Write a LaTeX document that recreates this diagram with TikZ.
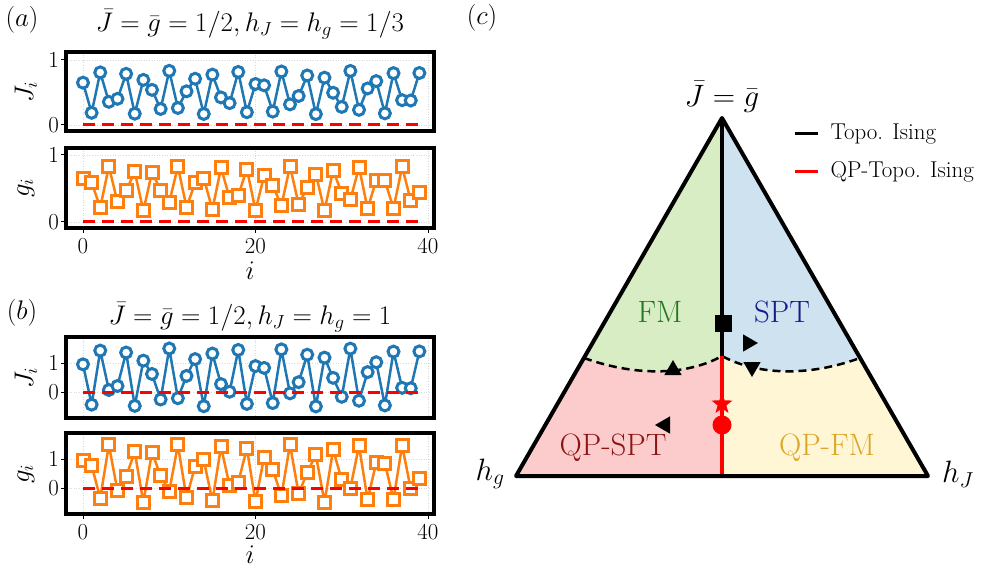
\documentclass[tikz,border=0pt]{standalone}
\usepackage{fix-cm}
\usepackage{tikz}
\usetikzlibrary{shapes.geometric,plotmarks}
\definecolor{jcolor}{RGB}{31,119,180}
\definecolor{gcolor}{RGB}{255,127,14}
\definecolor{fmfill}{RGB}{217,237,196}
\definecolor{sptfill}{RGB}{207,226,240}
\definecolor{qpsptfill}{RGB}{252,204,204}
\definecolor{qpfmfill}{RGB}{254,246,213}
\definecolor{fmtext}{RGB}{34,120,34}
\definecolor{spttext}{RGB}{25,25,140}
\definecolor{qpspttext}{RGB}{140,20,20}
\definecolor{qpfmtext}{RGB}{222,166,40}
\tikzset{
  frame/.style={line width=3.5bp},
  gridline/.style={gray!30, dotted, line width=0.6bp},
  zeroline/.style={red, line width=3bp, dash pattern=on 12bp off 7bp},
  jline/.style={jcolor, line width=2.5bp, mark=*, mark size=5.5bp, mark options={fill=white, solid, line width=3bp}},
  gline/.style={gcolor, line width=2.5bp, mark=square*, mark size=6bp, mark options={fill=white, solid, line width=3bp}},
  tick/.style={line width=1bp},
  big/.style={font=\fontsize{27}{30}\selectfont},
  med/.style={font=\fontsize{23}{26}\selectfont},
  phase/.style={font=\fontsize{31}{34}\selectfont},
}
% one data panel: #1 top, #2 bottom, #3 y of 0, #4 px per unit, #5 y ticks
\newcommand{\qpbox}[5]{
  \foreach \t in {0,20,40} \draw[gridline] ({83+8.625*\t},#1) -- ({83+8.625*\t},#2);
  \foreach \v in {#5} {
    \draw[gridline] (66,{#3-#4*\v}) -- (434,{#3-#4*\v});
    \draw[tick] (61,{#3-#4*\v}) -- (66,{#3-#4*\v});
    \node[med, anchor=east, inner sep=1bp] at (60,{#3-#4*\v}) {$\v$};
  }
}
\begin{document}
\begin{tikzpicture}[x=1bp, y=-1bp]
  \useasboundingbox (0,0) rectangle (997,576);

  % panel (a)
  \node[big] at (22,20) {$(a)$};
  \node[big] at (250,24) {$\bar J=\bar g=1/2, h_J=h_g=1/3$};
  \qpbox{52}{131}{125}{65}{0,1}
  \draw[jline] plot[samples at={0,...,39}] ({83+8.625*\x}, {125-65*(0.5+cos(222.4922*\x-63)/3)});
  \draw[zeroline] (83,125) -- (419,125);
  \draw[frame] (66,52) rectangle (434,131);
  \node[big, rotate=90] at (26,92) {$J_i$};
  \qpbox{148}{228}{222}{67}{0,1}
  \draw[gline] plot[samples at={0,...,39}] ({83+8.625*\x}, {222-67*(0.5+cos(222.4922*\x+63)/3)});
  \draw[zeroline] (83,222) -- (419,222);
  \draw[frame] (66,148) rectangle (434,228);
  \node[big, rotate=90] at (26,188) {$g_i$};
  \foreach \t in {0,20,40} {
    \draw[tick] ({83+8.625*\t},228) -- ({83+8.625*\t},233);
    \node[med] at ({83+8.625*\t},246) {$\t$};
  }
  \node[big] at (250,271) {$i$};

  % panel (b)
  \node[big] at (22,313) {$(b)$};
  \node[big] at (250,317) {$\bar J=\bar g=1/2, h_J=h_g=1$};
  \qpbox{337}{418}{392}{29}{0,1}
  \draw[jline] plot[samples at={0,...,39}] ({83+8.625*\x}, {392-29*(0.5+cos(222.4922*\x-63))});
  \draw[zeroline] (83,392) -- (419,392);
  \draw[frame] (66,337) rectangle (434,418);
  \node[big, rotate=90] at (26,378) {$J_i$};
  \qpbox{433}{514}{488}{29}{0,1}
  \draw[gline] plot[samples at={0,...,39}] ({83+8.625*\x}, {488-29*(0.5+cos(222.4922*\x+63))});
  \draw[zeroline] (83,488) -- (419,488);
  \draw[frame] (66,433) rectangle (434,514);
  \node[big, rotate=90] at (26,474) {$g_i$};
  \foreach \t in {0,20,40} {
    \draw[tick] ({83+8.625*\t},514) -- ({83+8.625*\t},519);
    \node[med] at ({83+8.625*\t},532) {$\t$};
  }
  \node[big] at (250,555) {$i$};

  % panel (c)
  \node[big] at (482,18) {$(c)$};
  \coordinate (top) at (722,118);
  \coordinate (left) at (516,476);
  \coordinate (right) at (928,476);
  \coordinate (bot) at (722,476);
  \coordinate (mid) at (722,356);
  \coordinate (cl) at (584,358);
  \coordinate (cr) at (860,358);
  \begin{scope}
    \clip (top) -- (left) -- (right) -- cycle;
    \fill[qpsptfill] (500,100) rectangle (bot);
    \fill[qpfmfill] (top) rectangle (940,480);
    \fill[fmfill] (top) -- (cl) .. controls (640,378) and (690,374) .. (mid) -- cycle;
    \fill[sptfill] (top) -- (mid) .. controls (755,374) and (805,378) .. (cr) -- cycle;
  \end{scope}
  \draw[line width=2.5bp, dash pattern=on 8bp off 5bp] (cl) .. controls (640,378) and (690,374) .. (mid)
    .. controls (755,374) and (805,378) .. (cr);
  \draw[line width=3.5bp] (top) -- (mid);
  \draw[red, line width=3.5bp] (mid) -- (bot);
  \draw[line width=4bp, line join=round] (top) -- (left) -- (right) -- cycle;

  \node[phase] at (722,97) {$\bar J=\bar g$};
  \node[phase] at (490,474) {$h_g$};
  \node[phase] at (958,474) {$h_J$};
  \node[phase, text=fmtext] at (660,312) {FM};
  \node[phase, text=spttext] at (782,312) {SPT};
  \node[phase, text=qpspttext] at (613,448) {QP-SPT};
  \node[phase, text=qpfmtext] at (827,448) {QP-FM};

  % markers
  \node[fill, minimum size=17bp, inner sep=0] (sq) at (723,323) {};
  \node[fill, regular polygon, regular polygon sides=3, shape border rotate=-90, minimum size=20bp, inner sep=0] (tr) at (748,343) {};
  \node[fill, regular polygon, regular polygon sides=3, shape border rotate=180, minimum size=20bp, inner sep=0] (td) at (752,367) {};
  \node[fill, regular polygon, regular polygon sides=3, minimum size=20bp, inner sep=0] (tu) at (673,370) {};
  \node[fill, regular polygon, regular polygon sides=3, shape border rotate=90, minimum size=20bp, inner sep=0] (tl) at (665,425) {};
  \node[fill=red, star, star points=5, star point ratio=2.4, minimum size=22bp, inner sep=0] (st) at (722,404) {};
  \node[fill=red, circle, minimum size=19bp, inner sep=0] (ci) at (722,425) {};

  % legend
  \draw[line width=3bp] (795,134) -- (818,134);
  \node[med, anchor=west] at (827,134) {Topo. Ising};
  \draw[red, line width=3bp] (795,172) -- (818,172);
  \node[med, anchor=west] at (827,172) {QP-Topo. Ising};
\end{tikzpicture}
\end{document}
